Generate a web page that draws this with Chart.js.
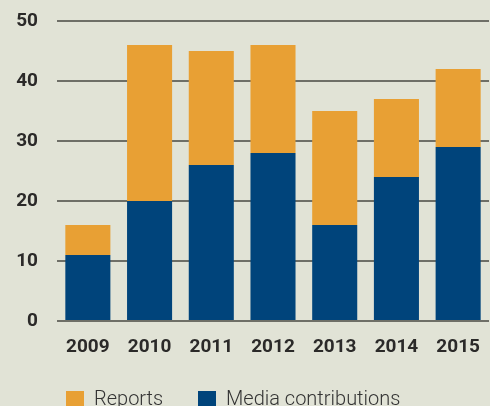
<!DOCTYPE html>
<html><head><meta charset="utf-8">
<script src="https://cdn.jsdelivr.net/npm/chart.js@4/dist/chart.umd.min.js"></script>
<style>html,body{margin:0;padding:0;background:#e1e3d6;overflow:hidden;width:490px;height:406px}canvas{display:block}</style>
</head><body><canvas id="c" width="490" height="406"></canvas>
<script>
const years = ['2009','2010','2011','2012','2013','2014','2015'];
const mediaContributions = [11,20,26,28,16,24,29];
const reports = [5,26,19,18,19,13,13];
const yTickValues = [0,10,20,30,40,50];

const BLUE = '#00447b', ORANGE = '#e8a034', GRID = '#6e6f67', TEXT = '#2b2a29';
const FAMILY = "Roboto, sans-serif";
const LEG_FONT = { family: FAMILY, size: 20, weight: '300' };
const TICK_FONT = { family: FAMILY, size: 19, weight: 'bold' };

// spacing so the second legend item starts where the reference has it
const mctx = document.createElement('canvas').getContext('2d');
mctx.font = '300 20px ' + FAMILY;
const LEG_PAD = 198 - (66 + 18 + LEG_FONT.size / 2 + mctx.measureText('Reports').width);

const legendMover = {
  id: 'legendMover',
  afterLayout(chart) {
    const lg = chart.legend;
    if (!lg) return;
    lg.left = 66 - LEG_PAD;
    lg.top = 390 - LEG_PAD;
    lg.right = 490;
    lg.bottom = 500;
    lg.width = lg.right - lg.left;
    lg.height = lg.bottom - lg.top;
  }
};

new Chart(document.getElementById('c'), {
  type: 'bar',
  data: {
    labels: years,
    datasets: [
      { label: 'Media contributions', data: mediaContributions, backgroundColor: BLUE, borderWidth: 0 },
      { label: 'Reports', data: reports, backgroundColor: ORANGE, borderWidth: 0 }
    ]
  },
  options: {
    responsive: false,
    animation: false,
    devicePixelRatio: 1,
    layout: { padding: { top: 21, right: 1, left: 0, bottom: 0 } },
    datasets: { bar: { barPercentage: 0.73, categoryPercentage: 1 } },
    plugins: {
      tooltip: { enabled: false },
      legend: {
        position: 'bottom',
        align: 'start',
        reverse: true,
        maxHeight: 40,
        labels: {
          boxWidth: 18, boxHeight: 18, padding: LEG_PAD,
          color: '#333',
          font: LEG_FONT
        }
      }
    },
    scales: {
      x: {
        stacked: true,
        grid: { display: false },
        border: { display: false },
        ticks: { color: TEXT, padding: 7, font: TICK_FONT },
        afterFit(s) { s.height = 406 - 321 - (s.chart.legend ? s.chart.legend.height : 0); }
      },
      y: {
        stacked: true,
        min: 0, max: 50,
        afterBuildTicks(s) { s.ticks = yTickValues.map(v => ({ value: v })); },
        grid: { color: GRID, lineWidth: 2, drawTicks: true, tickLength: 19, tickColor: 'rgba(0,0,0,0)' },
        border: { display: false },
        ticks: { color: TEXT, padding: 0, font: TICK_FONT },
        afterFit(s) { s.width = 57; }
      }
    }
  },
  plugins: [legendMover]
});
</script>
</body></html>
